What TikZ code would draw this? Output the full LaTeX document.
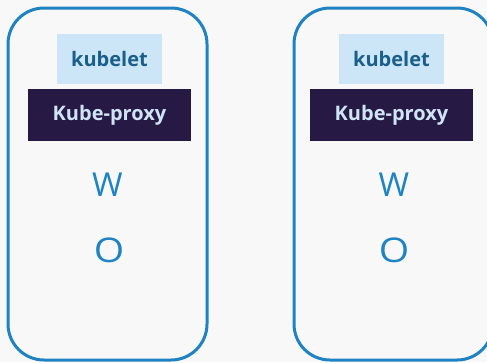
\documentclass[tikz,border=0pt]{standalone}
\usepackage{fontspec}
\setmainfont{Open Sans}
\usepackage{tikz}
\usepackage{xcolor}

\definecolor{nodeblue}{HTML}{1E82C3}
\definecolor{lightbox}{HTML}{CCE6F8}
\definecolor{darktext}{HTML}{1A5E8A}
\definecolor{proxyfill}{HTML}{261A45}
\definecolor{proxytext}{HTML}{CFE4F6}
\definecolor{bggray}{HTML}{F8F8F8}

\begin{document}
\begin{tikzpicture}[x=1pt, y=-1pt,
    worker/.style={draw=nodeblue, line width=3pt, rounded corners=36pt},
    kubelet/.style={fill=lightbox, text=darktext, font=\bfseries\fontsize{20}{22}\selectfont,
        minimum width=105pt, minimum height=50pt, inner sep=0pt},
    proxy/.style={fill=proxyfill, text=proxytext, font=\bfseries\fontsize{20}{22}\selectfont,
        minimum width=163pt, minimum height=52pt, inner sep=0pt},
    letter/.style={text=nodeblue, font=\fontsize{33}{36}\selectfont, inner sep=0pt},
    ring/.style={letter, font=\fontsize{34}{36}\selectfont, xscale=1.15, transform shape}]
    \fill[bggray] (0,0) rectangle (487,362);
    \useasboundingbox (0,0) rectangle (487,362);
    \clip (0,0) rectangle (487,362);
    % first node
    \draw[worker] (8,8) rectangle (207,360);
    \node[kubelet] (kubeletA) at (109.5,59) {kubelet};
    \node[proxy] (proxyA) at (109.5,115) {Kube-proxy};
    \node[letter] (wA) at (107.5,185) {W};
    \node[ring] (oA) at (109,250) {O};
    % second node
    \draw[worker] (294,8) rectangle (493,360);
    \node[kubelet] (kubeletB) at (391.5,59) {kubelet};
    \node[proxy] (proxyB) at (391.5,115) {Kube-proxy};
    \node[letter] (wB) at (394,185) {W};
    \node[ring] (oB) at (394,250) {O};
\end{tikzpicture}
\end{document}
